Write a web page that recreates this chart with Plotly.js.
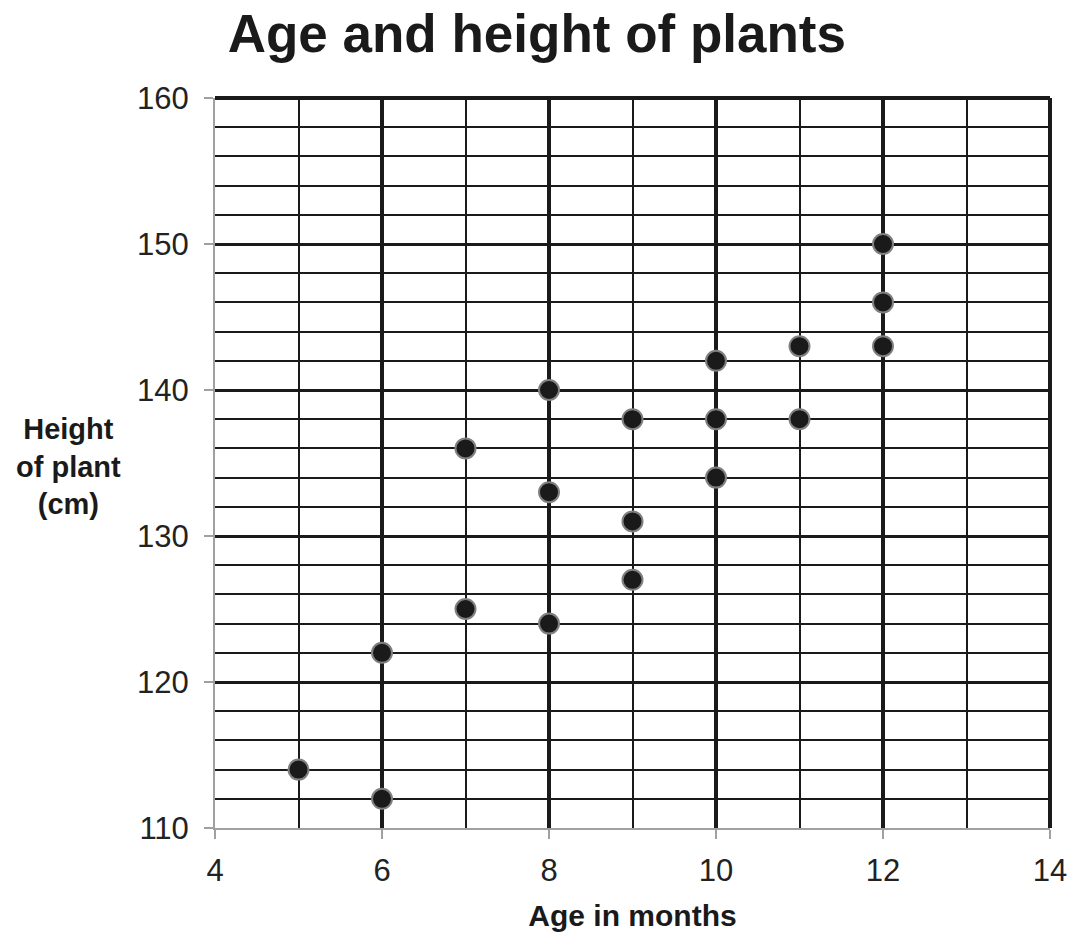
<!DOCTYPE html>
<html>
<head>
<meta charset="utf-8">
<script src="https://cdn.plot.ly/plotly-3.0.1.min.js"></script>
<style>html,body{margin:0;padding:0;background:#fff;}#chart{width:1078px;height:936px;}</style>
</head>
<body>
<div id="chart"></div>
<script>
const ageMonths = [5, 6, 6, 7, 7, 8, 8, 8, 9, 9, 9, 10, 10, 10, 11, 11, 12, 12, 12];
const heightCm = [114, 122, 112, 136, 125, 140, 133, 124, 138, 131, 127, 142, 138, 134, 143, 138, 150, 146, 143];
const xTicks = [4, 6, 8, 10, 12, 14];
const yTicks = [110, 120, 130, 140, 150, 160];
const titleText = 'Age and height of plants';
const xTitle = 'Age in months';
const yTitle = 'Height<br>of plant<br>(cm)';

const font = 'Liberation Sans, Arial, sans-serif';

const trace = {
  x: ageMonths, y: heightCm, type: 'scatter', mode: 'markers',
  marker: {size: 20, color: '#1a1a1a', line: {color: '#808080', width: 2}},
  hoverinfo: 'x+y', cliponaxis: false
};

const layout = {
  width: 1078, height: 936,
  margin: {l: 215, r: 28, t: 98, b: 108},
  paper_bgcolor: '#fff', plot_bgcolor: '#fff',
  showlegend: false,
  font: {family: font, color: '#222'},
  title: {text: '<b>' + titleText + '</b>', font: {size: 53, color: '#1a1a1a', family: font}, x: 0.498, xanchor: 'center', y: 0.964, yanchor: 'middle'},
  xaxis: {
    range: [4, 14], tickvals: xTicks, ticktext: xTicks.map(String),
    showline: true, linecolor: '#a0a0a0', linewidth: 2,
    ticks: 'outside', ticklen: 9, tickwidth: 2, tickcolor: '#a0a0a0',
    tickfont: {size: 31, color: '#222'}, ticklabelstandoff: 5,
    showgrid: true, gridcolor: '#1a1a1a', gridwidth: 3.5,
    minor: {dtick: 1, tick0: 0, showgrid: true, gridcolor: '#1a1a1a', gridwidth: 2, ticks: ''},
    zeroline: false, fixedrange: true,
    title: {text: '<b>' + xTitle + '</b>', font: {size: 30, color: '#1a1a1a'}, standoff: 18}
  },
  yaxis: {
    range: [110, 160], tickvals: yTicks, ticktext: yTicks.map(String),
    showline: true, linecolor: '#a0a0a0', linewidth: 2,
    ticks: 'outside', ticklen: 9, tickwidth: 2, tickcolor: '#a0a0a0',
    tickfont: {size: 31, color: '#222'}, ticklabelstandoff: 9,
    showgrid: true, gridcolor: '#1a1a1a', gridwidth: 3,
    minor: {dtick: 2, tick0: 0, showgrid: true, gridcolor: '#1a1a1a', gridwidth: 2, ticks: ''},
    zeroline: false, fixedrange: true
  },
  shapes: [
    {type: 'line', xref: 'paper', yref: 'paper', x0: 0, x1: 1, y0: 1, y1: 1, line: {color: '#1a1a1a', width: 4}},
    {type: 'line', xref: 'paper', yref: 'paper', x0: 1, x1: 1, y0: 0, y1: 1, line: {color: '#1a1a1a', width: 4}}
  ],
  annotations: [
    {text: '<b>' + yTitle + '</b>', xref: 'paper', yref: 'paper', x: -0.175, y: 0.495, xanchor: 'center', yanchor: 'middle', showarrow: false, align: 'center', font: {size: 29, color: '#1a1a1a'}}
  ]
};

Plotly.newPlot('chart', [trace], layout, {displayModeBar: false, staticPlot: true});
</script>
</body>
</html>
